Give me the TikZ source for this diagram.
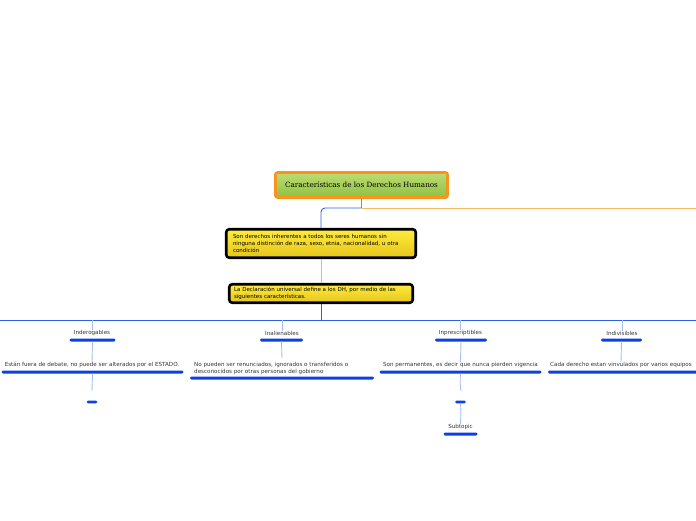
\documentclass[tikz,border=0pt]{standalone}
\usepackage{fontspec}
\setmainfont{DejaVu Sans}
\newfontfamily\rootfont{DejaVu Serif}
\definecolor{rootorange}{HTML}{F7941D}
\definecolor{rootgtop}{HTML}{BCDD72}
\definecolor{rootgbot}{HTML}{8FC043}
\definecolor{ytop}{HTML}{FFEC3C}
\definecolor{ybot}{HTML}{E6C51C}
\definecolor{mainblue}{HTML}{2A62E6}
\definecolor{lightblue}{HTML}{A8BEF2}
\definecolor{barblue}{HTML}{0B40E6}
\definecolor{orangeline}{HTML}{F9B860}
\definecolor{stemcol}{HTML}{A88A60}
\begin{document}
\begin{tikzpicture}[x=1pt,y=-1pt,
  rootbox/.style={rectangle,draw=rootorange,line width=2.6pt,rounded corners=2pt,
    top color=rootgtop,bottom color=rootgbot,minimum width=172pt,minimum height=25pt,
    font=\rootfont\fontsize{7.2}{8.5}\selectfont,inner sep=0pt},
  ybox/.style={rectangle,draw=black,line width=2.6pt,rounded corners=3pt,
    top color=ytop,bottom color=ybot,align=left,inner sep=0pt,
    font=\fontsize{5.5}{6.6}\selectfont},
  lbl/.style={inner sep=0pt,font=\fontsize{5.6}{6.4}\selectfont,text=black!80},
  bar/.style={rectangle,fill=barblue,rounded corners=1.4pt,minimum height=3pt,inner sep=0pt},
  mainline/.style={draw=mainblue,line width=0.9pt},
  thinline/.style={draw=lightblue,line width=0.9pt}
]
\useasboundingbox (0,0) rectangle (696,520);

% root
\node[rootbox] (root) at (361.5,185) {Características de los Derechos Humanos};

% yellow boxes
\node[ybox,minimum width=189.5pt,minimum height=28.5pt,text width=176pt] (def) at (321,243.5)
  {Son derechos inherentes a todos los seres humanos sin\\ninguna distinción de raza, sexo, etnia, nacionalidad, u otra\\condición};
\node[ybox,minimum width=183.5pt,minimum height=18.5pt,text width=174pt] (decl) at (321,293.5)
  {La Declaración universal define a los DH, por medio de las\\siguientes características.};

% connectors root
\coordinate (split) at (361.5,208);
\coordinate (oright) at (696,208);
\coordinate (hl) at (0,320);
\coordinate (hr) at (696,320);
\coordinate (hmid) at (321,320);
\draw[draw=stemcol,line width=0.9pt] (root.south) -- (split);
\draw[mainline,rounded corners=4pt] (split) -- (321,208) -- (def.north);
\draw[draw=orangeline,line width=1pt] (split) -- (oright);
\draw[thinline] (def.south) -- (decl.north);
\draw[mainline] (decl.south) -- (hmid);
\draw[mainline] (hl) -- (hr);

% column 1
\coordinate (t1) at (92,320);
\coordinate (e1end) at (92,391);
\node[lbl] (l1) at (92,333) {Inderogables};
\node[bar,minimum width=46pt] (b1) at (92.5,340) {};
\node[lbl] (d1) at (92,365) {Están fuera de debate, no puede ser alterados por el ESTADO.};
\node[bar,minimum width=182pt] (e1) at (92.5,372) {};
\node[bar,minimum width=11pt,minimum height=2.6pt] (s1) at (92,402) {};
\draw[thinline] (t1) -- (l1.north);
\draw[thinline] (b1.south) -- (d1.north);
\draw[thinline] (e1.south) -- (e1end);

% column 2
\coordinate (t2) at (282,320);
\coordinate (d2top) at (282,358);
\node[lbl] (l2) at (282,333) {Inalienables};
\node[bar,minimum width=43pt] (b2) at (281.5,340) {};
\node[lbl,align=left,anchor=north west] (d2) at (194,362.3) {No pueden ser renunciados, ignorados o transferidos o\\desconocidos por otras personas del gobierno};
\node[bar,minimum width=184pt] (e2) at (282,378) {};
\draw[thinline] (t2) -- (l2.north);
\draw[thinline] (b2.south) -- (d2top);

% column 3
\coordinate (t3) at (460.5,320);
\coordinate (e3end) at (461,391);
\node[lbl] (l3) at (460.5,333) {Inprescriptibles};
\node[bar,minimum width=52pt] (b3) at (461,340) {};
\node[lbl] (d3) at (460.5,365) {Son permanentes, es decir que nunca pierden vigencia};
\node[bar,minimum width=162pt] (e3) at (460.5,372) {};
\node[bar,minimum width=11pt,minimum height=2.6pt] (s3) at (460.5,402) {};
\node[lbl] (st) at (460.5,427) {Subtopic};
\node[bar,minimum width=34pt] (u3) at (460.5,434) {};
\draw[thinline] (t3) -- (l3.north);
\draw[thinline] (b3.south) -- (d3.north);
\draw[thinline] (e3.south) .. controls (460,380) and (460,385) .. (e3end);
\draw[thinline] (s3.south) .. controls (461,410) and (461,412) .. (st.north);

% column 4
\coordinate (t4) at (622,320);
\node[lbl] (l4) at (622,333) {Indivisibles};
\node[bar,minimum width=41pt] (b4) at (621.5,340) {};
\node[lbl] (d4) at (621,365) {Cada derecho estan vinvulados por varios equipos};
\node[bar,minimum width=150pt] (e4) at (623,372) {};
\draw[thinline] (t4) -- (l4.north);
\draw[thinline] (b4.south) -- (d4.north);
\end{tikzpicture}
\end{document}
